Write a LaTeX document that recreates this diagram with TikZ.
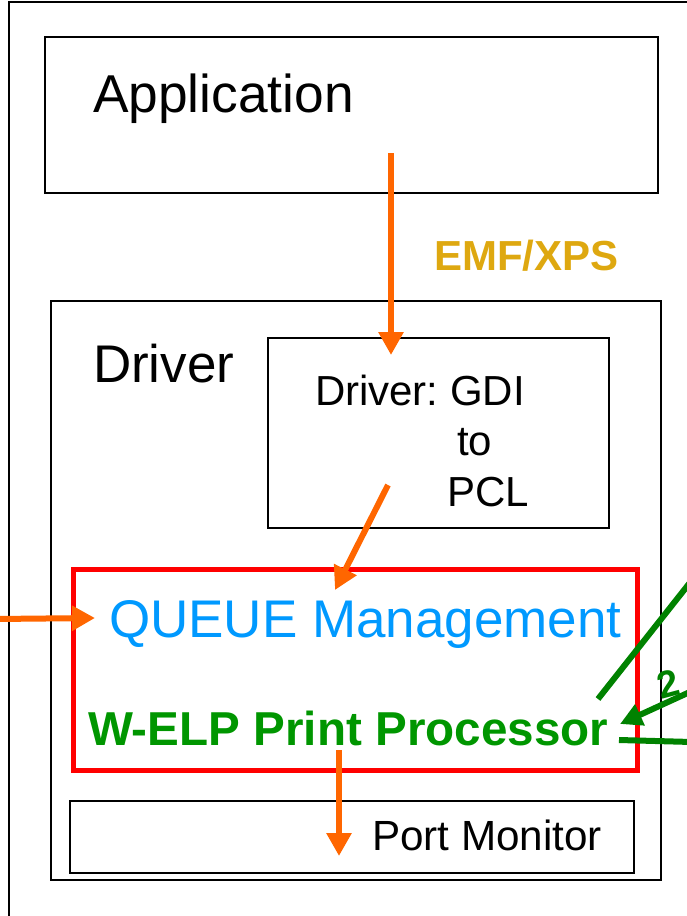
\documentclass[tikz,border=0pt]{standalone}
\usepackage{fontspec}
\setmainfont{Liberation Sans}
\usetikzlibrary{arrows.meta}
\definecolor{oarr}{RGB}{255,102,0}
\definecolor{qblue}{RGB}{0,153,255}
\definecolor{pgreen}{RGB}{0,150,0}
\definecolor{lgreen}{RGB}{0,130,0}
\definecolor{gold}{RGB}{222,168,16}
\tikzset{
  box/.style={draw=black, line width=2pt, anchor=north west, inner sep=0pt, outer sep=0pt},
  redbox/.style={draw=red, line width=5pt, anchor=north west, inner sep=0pt, outer sep=0pt},
  txt/.style={anchor=base west, inner sep=0pt, outer sep=0pt},
  oarrow/.style={draw=oarr, line width=6pt, -{Triangle[length=23pt,width=24pt]}},
  gline/.style={draw=lgreen, line width=6pt},
  garrow/.style={draw=lgreen, line width=6pt, -{Triangle[length=22pt,width=22pt]}},
}
\newcommand{\fs}[1]{\fontsize{#1}{#1}\selectfont}
\frenchspacing
\begin{document}
\begin{tikzpicture}[x=1pt,y=-1pt]
\useasboundingbox (0,0) rectangle (687,916);
% outer frame
\coordinate (fbl) at (9,920);
\coordinate (ftl) at (9,2);
\coordinate (ftr) at (690,2);
\draw[line width=2pt] (fbl) -- (ftl) -- (ftr);
% boxes
\node[box, minimum width=613pt, minimum height=156pt] (app) at (45,37) {};
\node[box, minimum width=610pt, minimum height=579pt] (drv) at (51,301) {};
\node[box, minimum width=341pt, minimum height=190pt] (gdi) at (268,338) {};
\node[redbox, minimum width=564pt, minimum height=201pt] (queue) at (73,569) {};
\node[box, minimum width=564pt, minimum height=72pt] (port) at (70,801) {};
% texts
\node[txt] (tapp) at (93,112) {\fs{53.3}Application};
\node[txt] (tdrv) at (93,382) {\fs{53}Driver};
\node[txt] (tgdi1) at (315,405) {\fs{42}Driver: GDI};
\node[txt] (tgdi2) at (457,455) {\fs{42}to};
\node[txt] (tgdi3) at (447,506) {\fs{42}PCL};
\node[txt, text=gold] (temf) at (434,270) {\fs{42}\bfseries EMF/XPS};
\node[txt, text=qblue] (tq) at (109,637) {\fs{53}QUEUE Management};
\node[txt, text=pgreen] (tw) at (88,745) {\fs{47.6}\bfseries W-ELP Print Processor};
\node[txt] (tport) at (372,850) {\fs{42.2}Port Monitor};
\node[txt, text=lgreen, rotate=15] (two) at (661,699) {\fs{38}\bfseries 2};
% orange arrows
\coordinate (a1s) at (391,153);
\coordinate (a1e) at (391,355);
\draw[oarrow] (a1s) -- (a1e);
\coordinate (a2s) at (388,485);
\coordinate (a2e) at (335,590);
\draw[oarrow] (a2s) -- (a2e);
\coordinate (a3s) at (-5,619);
\coordinate (a3e) at (95,618);
\draw[oarrow] (a3s) -- (a3e);
\coordinate (a4s) at (339,750);
\coordinate (a4e) at (339,856);
\draw[oarrow] (a4s) -- (a4e);
% green lines
\coordinate (g1s) at (598,699);
\coordinate (g1e) at (692,580);
\draw[gline] (g1s) -- (g1e);
\coordinate (g2s) at (692,691);
\coordinate (g2e) at (620,724);
\draw[garrow] (g2s) -- (g2e);
\coordinate (g3s) at (619,740);
\coordinate (g3e) at (692,742);
\draw[gline] (g3s) -- (g3e);
\end{tikzpicture}
\end{document}
